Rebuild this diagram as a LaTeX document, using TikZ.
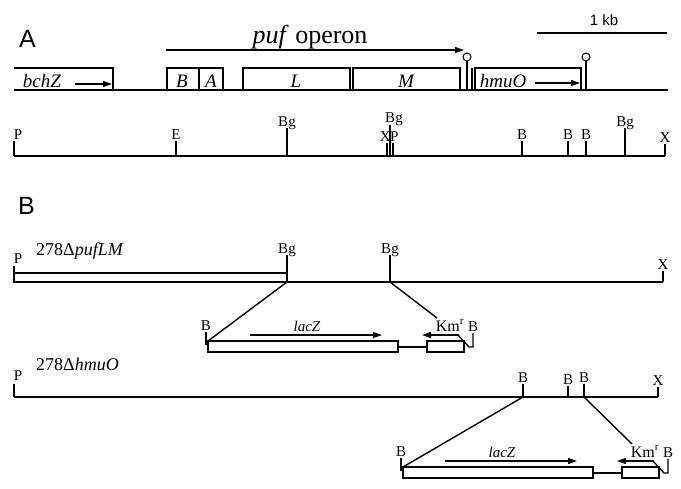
\documentclass[tikz,border=0pt]{standalone}
\usepackage{fontspec}
\setmainfont{Liberation Serif}
\setsansfont{Liberation Sans}
\usetikzlibrary{arrows.meta}
\newcommand\rsite[5]{%
  \coordinate (#5) at (#1,#2);
  \draw[tick] (#5) -- (#1,#3) node[site, yshift=2pt] (#5-lab) {#4};}
\newcommand\mycassette[1]{%
  \coordinate (#1L) at (208,341);
  \coordinate (#1R) at (437,318);
  \draw[genebox] (#1L) rectangle (398,352);
  \draw[mapline] (398,347) -- (427,347);
  \draw[genebox] (427,341) rectangle (464,352);
  \draw[tick] (208,344) -- (206,344) -- (206,332) node[site, yshift=2pt] (#1-bl) {B};
  \draw[arr] (250,335) -- (382,335);
  \node[site, font=\fontsize{15}{15}\selectfont\itshape] (#1-lac) at (307,331) {lacZ};
  \draw[arr] (459,335) -- (422,335);
  \draw[tick] (458,335) -- (469,347) -- (473,347) -- (473,333) node[site, yshift=2pt] (#1-br) {B};
  \node[site, font=\fontsize{16}{16}\selectfont] (#1-km) at (450,331) {Km\textsuperscript{r}};}
\begin{document}
\begin{tikzpicture}[x=1pt,y=-1pt,
  mapline/.style={line width=1.4pt},
  genebox/.style={draw,line width=1.2pt},
  tick/.style={line width=1.3pt},
  site/.style={font=\fontsize{15}{15}\selectfont, anchor=base, inner sep=0pt},
  genelab/.style={font=\fontsize{19}{19}\selectfont\itshape, anchor=base, inner sep=0pt},
  arr/.style={line width=1.2pt, -{Triangle[length=9pt,width=6pt]}},
  panel/.style={font=\sffamily\fontsize{25}{25}\selectfont, anchor=base west, inner sep=0pt}]
\useasboundingbox (0,0) rectangle (681,488);

% ---------- Panel A ----------
\node[panel] (labA) at (19,47) {A};
\node[font=\fontsize{26}{26}\selectfont, anchor=base, inner sep=0pt] (puf) at (310,43) {\textit{puf} operon};
\coordinate (pufS) at (166,50); \coordinate (pufE) at (464,50);
\draw[arr] (pufS) -- (pufE);
\node[font=\sffamily\fontsize{15}{15}\selectfont, anchor=base, inner sep=0pt] (kb) at (604,25) {1 kb};
\coordinate (kbS) at (537,33); \coordinate (kbE) at (667,33);
\draw[line width=2pt] (kbS) -- (kbE);

\coordinate (gS) at (14,90); \coordinate (gE) at (668,90);
\draw[mapline] (gS) -- (gE);
\draw[genebox] (14,68) -- (113,68) -- (113,90);
\node[genelab] (bchZ) at (42,87) {bchZ};
\draw[arr] (75,84) -- (112,84);
\draw[genebox] (167,68) rectangle (223,90);
\draw[line width=2.6pt] (199,68) -- (199,90);
\node[genelab] (gB) at (182,87) {B};
\node[genelab] (gA) at (211,87) {A};
\draw[genebox] (243,68) rectangle (350,90);
\draw[genebox] (353,68) rectangle (460,90);
\node[genelab] (gL) at (296,87) {L};
\node[genelab] (gM) at (406,87) {M};
\draw[tick] (467,90) -- (467,61);
\draw[line width=1pt, fill=white] (467,57) circle[radius=4pt];
\draw[genebox] (472,68) -- (472,90);
\draw[genebox] (475,68) rectangle (581,90);
\node[genelab] (hmuO) at (503,87) {hmuO};
\draw[arr] (535,83) -- (580,83);
\draw[tick] (586,90) -- (586,61);
\draw[line width=1pt, fill=white] (586,57) circle[radius=4pt];

% restriction map A
\coordinate (rS) at (14,156); \coordinate (rE) at (665,156);
\draw[mapline] (rS) -- (rE);
\draw[tick] (14,156) -- (14,141);
\node[site] (aP1) at (18,139) {P};
\rsite{176}{156}{141}{E}{aE}
\rsite{287}{156}{128}{Bg}{aBg1}
\draw[tick] (387,156) -- (387,143);
\draw[tick] (393,156) -- (393,143);
\draw[tick] (390,156) -- (390,125);
\node[site, anchor=base east] (aX1) at (391,141) {X};
\node[site, anchor=base west] (aP2) at (390,141) {P};
\node[site] (aBg2) at (394,122) {Bg};
\rsite{522}{156}{141}{B}{aB1}
\rsite{568}{156}{141}{B}{aB2}
\rsite{586}{156}{141}{B}{aB3}
\rsite{625}{156}{128}{Bg}{aBg3}
\rsite{665}{156}{144}{X}{aX2}

% ---------- Panel B ----------
\node[panel] (labB) at (18,214) {B};
\node[font=\fontsize{18}{18}\selectfont, anchor=base west, inner sep=0pt] (n1) at (36,255) {278Δ\textit{pufLM}};
\draw[genebox] (14,273) rectangle (287,282);
\draw[tick] (14,273) -- (14,266);
\node[site] (bP1) at (18,263) {P};
\coordinate (l1S) at (287,282); \coordinate (l1E) at (663,282);
\draw[mapline] (l1S) -- (l1E);
\rsite{287}{282}{255}{Bg}{bBg1}
\rsite{390}{282}{255}{Bg}{bBg2}
\rsite{663}{282}{271}{X}{bX}
\begin{scope}
\mycassette{c1}
\end{scope}
\draw[mapline] (bBg1) -- (c1L);
\draw[mapline] (bBg2) -- (c1R);

\node[font=\fontsize{18}{18}\selectfont, anchor=base west, inner sep=0pt] (n2) at (36,370) {278Δ\textit{hmuO}};
\coordinate (l2S) at (14,397); \coordinate (l2E) at (658,397);
\draw[mapline] (l2S) -- (l2E);
\draw[tick] (14,397) -- (14,384);
\node[site] (bP2) at (18,380) {P};
\rsite{523}{397}{384}{B}{cB1}
\rsite{568}{397}{386}{B}{cB2}
\rsite{584}{397}{384}{B}{cB3}
\rsite{658}{397}{387}{X}{cX}
\begin{scope}[shift={(195,126)}]
\mycassette{c2}
\end{scope}
\draw[mapline] (cB1) -- (c2L);
\draw[mapline] (cB3) -- (c2R);
\end{tikzpicture}
\end{document}
